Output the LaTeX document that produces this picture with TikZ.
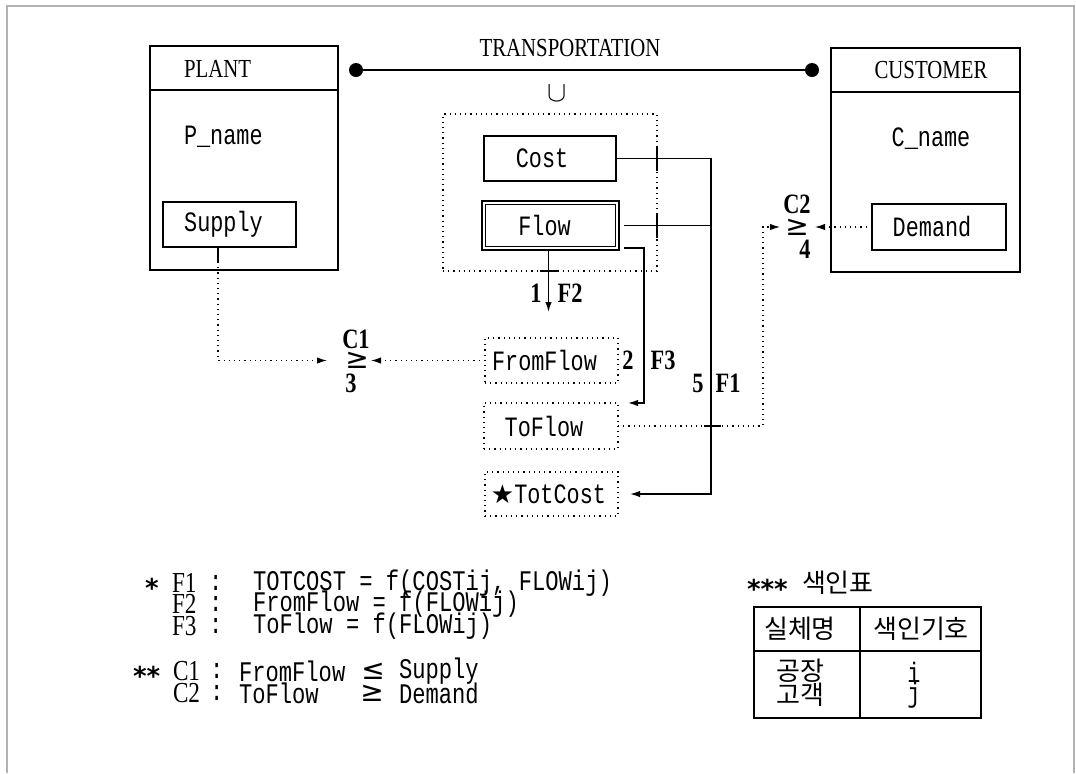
\documentclass[tikz,border=0pt]{standalone}
\usepackage{fontspec}
\usetikzlibrary{arrows.meta}
\newfontfamily\monof[FakeStretch=0.78]{Liberation Mono}
\newfontfamily\labf[FakeStretch=0.8]{Liberation Serif}
\newfontfamily\symf{DejaVu Sans}
\newfontfamily\krf{Noto Sans CJK KR}
\begin{document}
\begin{tikzpicture}[x=0.5pt,y=-0.5pt,
  every node/.style={inner sep=0pt, outer sep=0pt},
  entbox/.style={draw, line width=1.3pt},
  attbox/.style={draw, line width=0.6pt},
  dotbox/.style={draw, dotted, line width=0.6pt},
  conn/.style={line width=0.7pt},
  dconn/.style={dotted, line width=0.6pt},
  tip/.style={-{Latex[length=5pt,width=3.2pt]}},
  ttl/.style={font=\labf\fontsize{13}{13}\selectfont},
  att/.style={font=\monof\fontsize{14}{14}\selectfont},
  num/.style={font=\labf\bfseries\fontsize{14}{14}\selectfont},
  geq/.style={font=\symf\fontsize{14}{14}\selectfont},
  ast/.style={font=\symf\bfseries\fontsize{13}{13}\selectfont, anchor=west},
  leg/.style={font=\monof\fontsize{14.2}{14}\selectfont, anchor=west},
  legl/.style={font=\labf\fontsize{14.5}{14}\selectfont, anchor=west},
  kor/.style={font=\krf\fontsize{13}{13}\selectfont},
]
\useasboundingbox (0,0) rectangle (1076,773);
\draw[gray!60, line width=0.6pt] (7,773) -- (7,6) -- (1074,6) -- (1074,773);

% entities
\node[entbox, minimum width=94pt, minimum height=112pt] (plant) at (244,158) {};
\draw[entbox] ([yshift=-22pt]plant.north west) -- ([yshift=-22pt]plant.north east);
\node[ttl, anchor=west] (plantt) at (184,69) {PLANT};
\node[att, anchor=west] (pname) at (184,137) {P\_name};
\node[attbox, att, minimum width=66.5pt, minimum height=22.5pt] (supply) at (229.5,224.5) {Supply\kern6pt};

\node[entbox, minimum width=94.5pt, minimum height=112pt] (cust) at (925.5,160) {};
\draw[entbox] ([yshift=-22pt]cust.north west) -- ([yshift=-22pt]cust.north east);
\node[ttl] (custt) at (931,70) {CUSTOMER};
\node[att] (cname) at (931,139) {C\_name};
\node[attbox, att, minimum width=67pt, minimum height=23pt] (demand) at (939,227) {Demand\kern7pt};

% relationship
\node[ttl] (transt) at (570,48) {TRANSPORTATION};
\node[circle, fill, minimum size=7pt] (d1) at (356,70) {};
\node[circle, fill, minimum size=7pt] (d2) at (812,70) {};
\draw[line width=1pt] (d1) -- (d2);
\node[font=\fontsize{15}{15}\selectfont] (un) at (557,93) {$\cup$};
\node[dotbox, minimum width=107pt, minimum height=78.5pt] (big) at (550,192.5) {};
\node[attbox, att, minimum width=66pt, minimum height=22.5pt] (cost) at (550,158.5) {Cost\kern8pt};
\node[attbox, att, minimum width=68.5pt, minimum height=24.5pt] (flow) at (550.5,225.5) {Flow\kern6pt};
\draw[line width=0.6pt] ([shift={(1.6pt,-1.6pt)}]flow.north west) rectangle ([shift={(-1.6pt,1.6pt)}]flow.south east);

% derived
\node[dotbox, att, minimum width=66.5pt, minimum height=22.5pt] (fromflow) at (551.5,360.5) {FromFlow\kern7pt};
\node[dotbox, att, minimum width=67pt, minimum height=23pt] (toflow) at (551,426) {ToFlow\kern7pt};
\node[dotbox, att, minimum width=66.5pt, minimum height=22pt] (tot) at (551.5,494) {{\symf\fontsize{13}{13}\selectfont ★}TotCost\kern3pt};

% constraint labels
\node[num] (c1) at (356,339) {C1};
\node[geq] (ge1) at (357,360.5) {≥};
\node[num] (c1n) at (351,383) {3};
\node[num] (c2) at (797,204) {C2};
\node[geq] (ge2) at (797,227) {≥};
\node[num] (c2n) at (805,249) {4};

% flow labels
\node[num] (l1) at (536,293) {1};
\node[num] (lf2) at (570,293) {F2};
\node[num] (l2) at (628,360) {2};
\node[num] (lf3) at (663,360) {F3};
\node[num] (l5) at (698,383) {5};
\node[num] (lf1) at (728,383) {F1};

% connectors: F1
\draw[conn, tip] (cost.east) -- ++(95,0) |- ([xshift=6pt]tot.east);
\draw[conn] ([xshift=2.5pt]flow.east) -- ++(87,0);
% F3
\draw[conn, tip] ([xshift=2.5pt,yshift=1pt]flow.south east) -- ++(20,0) |- ([xshift=5pt]toflow.north east);
% F2
\path ([xshift=-1pt]flow.south) coordinate (fs);
\path (fs |- fromflow.north) coordinate (ft);
\draw[conn, tip] (fs) -- ([yshift=13pt]ft);
% crossing ticks
\path (big.east |- cost.east) coordinate (t1);
\path (big.east |- flow.east) coordinate (t2);
\path (fs |- big.south) coordinate (t3);
\draw[conn] ([yshift=6.5pt]t1) -- ([yshift=-6pt]t1);
\draw[conn] ([yshift=6.5pt]t2) -- ([yshift=-6pt]t2);
\draw[conn] ([xshift=-4.5pt]t3) -- ([xshift=4.5pt]t3);

% C1
\draw[conn] ([xshift=-5.75pt]supply.south) -- ++(0,15) coordinate (s1);
\draw[dconn, tip] (s1) |- ([xshift=-15pt]ge1.center);
\draw[dconn, tip] (fromflow.west) -- ([xshift=7pt]ge1.center);
% C2
\draw[dconn, tip] (toflow.east) -- ++(145,0) |- ([xshift=-8.5pt]ge2.center);
\draw[dconn, tip] (demand.west) -- ([xshift=9pt]ge2.center);
\path (toflow.east) ++(93,0) coordinate (t4);
\draw[conn] ([xshift=-3.5pt]t4) -- ([xshift=5pt]t4);

% legend
\node[ast] (s1a) at (145,588) {*};
\node[legl] (f1) at (172,583) {F1};
\node[leg] (f1c) at (209,583) {:};
\node[leg] (f1t) at (253,583) {TOTCOST = f(COSTij, FLOWij)};
\node[legl] (f2) at (172,604) {F2};
\node[leg] (f2c) at (209,604) {:};
\node[leg] (f2t) at (253,604) {FromFlow = f(FLOWij)};
\node[legl] (f3) at (172,626) {F3};
\node[leg] (f3c) at (209,626) {:};
\node[leg] (f3t) at (253,626) {ToFlow = f(FLOWij)};

\node[ast] (s2a) at (133,676) {**};
\node[legl] (cc1) at (173,671) {C1};
\node[leg] (cc1c) at (210,671) {:};
\node[leg] (cc1a) at (239,671) {FromFlow};
\node[geq] (cc1g) at (373,671) {≤};
\node[leg] (cc1b) at (399,671) {Supply};
\node[legl] (cc2) at (173,693) {C2};
\node[leg] (cc2c) at (210,693) {:};
\node[leg] (cc2a) at (239,693) {ToFlow};
\node[geq] (cc2g) at (372,693) {≥};
\node[leg] (cc2b) at (399,693) {Demand};

% index table
\node[ast] (s3a) at (747,589) {***};
\node[kor, anchor=west] (idx) at (802,583) {색인표};
\draw[line width=1pt] (754,606.5) rectangle (981,717.5);
\draw[line width=1pt] (860,606.5) -- (860,717.5);
\draw[line width=1pt] (754,651) -- (981,651);
\node[kor] (h1) at (800,629) {실체명};
\node[kor] (h2) at (921,629) {색인기호};
\node[kor] (r1) at (800,671) {공장};
\node[kor] (r2) at (800,695) {고객};
\node[att] (ri) at (914,672) {i};
\node[att] (rj) at (914,695) {j};
\end{tikzpicture}
\end{document}
